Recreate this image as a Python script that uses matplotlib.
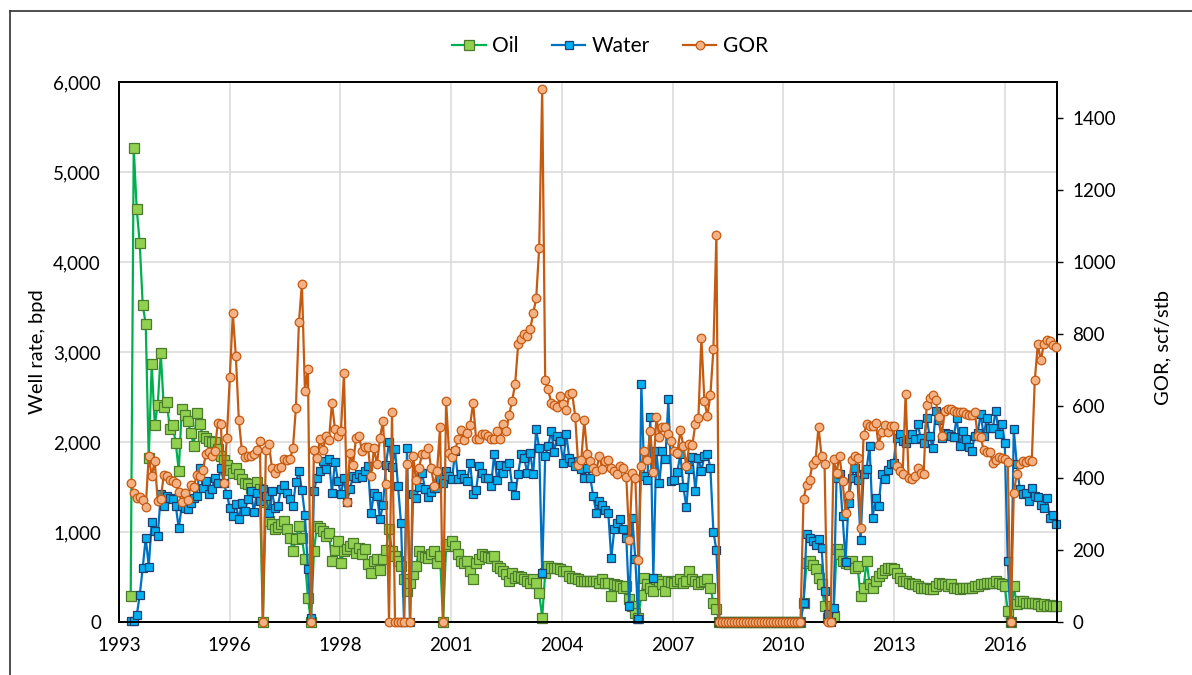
import numpy as np
import matplotlib.pyplot as plt
from matplotlib.lines import Line2D
from matplotlib.ticker import FuncFormatter

# monthly well test data, one value per month
oil = [
    290, 5270, 4590, 4210, 3520, 3310, 1820, 2870, 2190, 2410,
    2990, 2390, 2450, 2150, 2190, 1985, 1680, 2370, 2300, 2230,
    2100, 1960, 2320, 2200, 2070, 2050, 2010, 2000, 2000, 1920,
    1850, 1800, 1740, 1690, 1660, 1710, 1640, 1590, 1550, 1530,
    1490, 1450, 1560, 1480, 0, 1330, 1122, 1085, 1030, 1060,
    1085, 1122, 1030, 937, 789, 918, 1067, 937, 696, 270,
    0, 789, 1067, 1040, 1011, 956, 993, 678, 800, 900,
    659, 789, 807, 840, 881, 770, 826, 752, 807, 650,
    548, 678, 696, 574, 700, 800, 1030, 789, 733, 680,
    622, 474, 344, 437, 530, 622, 789, 733, 720, 715,
    752, 789, 659, 733, 0, 844, 870, 900, 844, 760,
    678, 659, 678, 570, 474, 659, 696, 752, 733, 720,
    715, 733, 622, 604, 567, 530, 456, 548, 493, 511,
    500, 480, 456, 437, 474, 437, 320, 48, 548, 622,
    604, 604, 604, 585, 567, 567, 511, 493, 493, 474,
    456, 456, 456, 456, 456, 456, 437, 474, 437, 437,
    289, 419, 410, 400, 381, 400, 252, 178, 100, 48,
    300, 493, 420, 381, 344, 474, 456, 419, 344, 456,
    450, 437, 456, 474, 437, 456, 567, 474, 456, 419,
    440, 456, 474, 381, 215, 141, 0, 0, 0, 0,
    0, 0, 0, 0, 0, 0, 0, 0, 0, 0,
    0, 0, 0, 0, 0, 0, 0, 0, 0, 0,
    0, 0, 0, 0, 215, 659, 678, 630, 585, 493,
    419, 178, 48, 48, 67, 807, 752, 678, 659, 641,
    678, 604, 620, 289, 381, 678, 420, 381, 456, 511,
    548, 580, 604, 604, 585, 548, 493, 456, 456, 437,
    419, 419, 400, 381, 381, 381, 370, 363, 400, 437,
    419, 419, 400, 419, 381, 381, 363, 381, 381, 381,
    381, 400, 400, 419, 419, 437, 437, 437, 456, 437,
    419, 400, 122, 0, 400, 196, 233, 233, 215, 215,
    215, 215, 196, 178, 196, 178, 185, 178, 178,
]

water = [
    10, 10, 74, 296, 604, 937, 615, 1111, 1011, 956,
    1419, 1289, 1400, 1380, 1363, 1289, 1041, 1289, 1270, 1252,
    1320, 1381, 1400, 1715, 1493, 1567, 1419, 1474, 1604, 1548,
    1715, 1548, 1419, 1270, 1178, 1307, 1141, 1326, 1233, 1363,
    1455, 1222, 1437, 1344, 1474, 1400, 1215, 1455, 1270, 1289,
    1474, 1519, 1437, 1363, 1289, 1556, 1678, 1463, 1189, 585,
    48, 1456, 1600, 1678, 1789, 1696, 1807, 1437, 1781, 1567,
    1419, 1604, 1333, 1480, 1622, 1604, 1641, 1611, 1680, 1733,
    1207, 1437, 1400, 1148, 1300, 1750, 2000, 1722, 1918, 1511,
    1100, 0, 1937, 0, 1426, 1382, 1500, 1659, 1474, 1389,
    1440, 1493, 1493, 1585, 1550, 1678, 1620, 1585, 1900, 1585,
    1641, 1600, 1567, 1770, 1419, 1463, 1733, 1659, 1596, 1604,
    1511, 1870, 1574, 1741, 1652, 1733, 1770, 1511, 1411, 1648,
    1863, 1826, 1659, 1881, 1641, 2141, 1930, 548, 1844, 1956,
    2122, 1889, 2067, 2011, 1770, 2093, 1826, 1781, 1733, 1789,
    1700, 1604, 1715, 1604, 1400, 1215, 1344, 1300, 1250, 1215,
    707, 1030, 1100, 1141, 1030, 937, 178, 1159, 700, 30,
    2648, 1622, 1578, 2278, 493, 1900, 1541, 1900, 1807, 2474,
    1567, 1574, 1670, 1863, 1500, 1278, 1696, 1833, 1456, 1826,
    1678, 1844, 1870, 1707, 1004, 796, 0, 0, 0, 0,
    0, 0, 0, 0, 0, 0, 0, 0, 0, 0,
    0, 0, 0, 0, 0, 0, 0, 0, 0, 0,
    0, 0, 0, 0, 215, 974, 937, 900, 856, 918,
    826, 344, 85, 0, 159, 1604, 1648, 1178, 670, 1326,
    1604, 1715, 1574, 911, 1648, 1700, 1956, 1159, 1374, 1289,
    1641, 1585, 1685, 1752, 1770, 2048, 2085, 2011, 1993, 2030,
    2085, 2030, 2204, 2048, 1993, 2263, 2067, 1930, 2345, 2241,
    2048, 2104, 2085, 2067, 2056, 2270, 1956, 2122, 2030, 1950,
    1900, 2067, 2104, 2315, 2067, 2270, 2159, 2152, 2345, 2093,
    2204, 1993, 678, 0, 2141, 1760, 1474, 1419, 1437, 1344,
    1493, 1400, 1389, 1300, 1270, 1382, 1152, 1189, 1085,
]

gor = [
    387, 359, 345, 347, 338, 320, 461, 405, 447, 336,
    343, 407, 405, 394, 392, 385, 360, 333, 359, 340,
    381, 376, 408, 405, 421, 466, 472, 461, 475, 554,
    549, 387, 512, 681, 857, 739, 561, 477, 458, 461,
    461, 466, 477, 503, 0, 477, 495, 429, 415, 429,
    431, 452, 450, 452, 482, 595, 832, 940, 643, 704,
    0, 477, 456, 507, 477, 517, 505, 609, 535, 517,
    531, 691, 334, 470, 436, 510, 517, 475, 486, 486,
    405, 482, 438, 512, 558, 382, 0, 584, 0, 0,
    0, 0, 438, 0, 461, 394, 429, 466, 466, 484,
    429, 378, 419, 542, 0, 614, 470, 458, 477, 507,
    532, 505, 526, 547, 609, 507, 507, 521, 521, 517,
    507, 507, 531, 507, 551, 531, 575, 615, 662, 771,
    785, 799, 795, 813, 857, 899, 1040, 1480, 671, 646,
    609, 603, 597, 628, 605, 588, 632, 635, 570, 436,
    449, 560, 468, 447, 429, 419, 461, 426, 447, 449,
    429, 420, 410, 433, 429, 403, 227, 415, 401, 171,
    433, 475, 449, 531, 417, 570, 514, 543, 543, 521,
    503, 475, 470, 532, 489, 433, 494, 492, 551, 566,
    790, 614, 572, 631, 757, 1075, 0, 0, 0, 0,
    0, 0, 0, 0, 0, 0, 0, 0, 0, 0,
    0, 0, 0, 0, 0, 0, 0, 0, 0, 0,
    0, 0, 0, 0, 341, 381, 394, 440, 449, 542,
    461, 440, 0, 0, 452, 415, 461, 392, 304, 353,
    449, 461, 455, 262, 520, 549, 545, 545, 554, 492,
    529, 547, 529, 545, 545, 433, 420, 410, 634, 401,
    396, 405, 427, 415, 412, 603, 621, 631, 616, 570,
    517, 586, 591, 591, 586, 584, 584, 582, 577, 576,
    575, 584, 517, 514, 477, 473, 473, 443, 449, 458,
    456, 452, 445, 0, 357, 412, 440, 447, 445, 449,
    447, 671, 771, 727, 771, 782, 780, 770, 764,
]

year_labels = ['1993', '1996', '1998', '2001', '2004', '2007', '2010', '2013', '2016']

months = np.arange(len(oil))

# date axis: one major unit is 1000 days, i.e. ~36.9 monthly samples
x_start = -3.9
x_step = 36.86
x_end = 308.4
x_ticks = x_start + x_step * np.arange(len(year_labels))

plt.rcParams['font.family'] = ['Lato', 'DejaVu Sans']

fig = plt.figure(figsize=(11.92, 6.75), dpi=100)
ax = fig.add_axes([119 / 1192, 1 - 622 / 675, (1057 - 119) / 1192, (622 - 82) / 675])
ax2 = ax.twinx()

l_oil, = ax.plot(months, oil, color='#00B050', lw=1.6, marker='s', ms=7.2,
                 mfc='#92D050', mec='#4A7A2C', mew=0.9, clip_on=False, zorder=3)
l_wat, = ax.plot(months, water, color='#0070C0', lw=1.6, marker='s', ms=6.0,
                 mfc='#00B0F0', mec='#1F3F6E', mew=0.9, clip_on=False, zorder=4)
l_gor, = ax2.plot(months, gor, color='#C55A11', lw=1.6, marker='o', ms=6.2,
                  mfc='#F4B183', mec='#C55A11', mew=0.9, clip_on=False, zorder=3)

ax.set_xlim(x_start, x_end)
ax.set_ylim(0, 6000)
ax2.set_ylim(0, 1500)

ax.set_xticks(x_ticks)
ax.set_xticklabels(year_labels)
ax.set_yticks(np.arange(0, 6001, 1000))
ax.yaxis.set_major_formatter(FuncFormatter(lambda v, p: f'{v:,.0f}'))
ax2.set_yticks(np.arange(0, 1401, 200))

ax.grid(True, color='#D9D9D9', lw=1.1)
ax.set_axisbelow(True)

for a in (ax, ax2):
    for s in a.spines.values():
        s.set_color('black')
        s.set_linewidth(1.3)

ax.tick_params(axis='y', length=0, pad=13, labelsize=13.5)
ax.tick_params(axis='x', length=0, pad=11, labelsize=13.5)
ax2.tick_params(axis='y', length=4, width=1, direction='out', pad=7, labelsize=13.5)

fig.text(38 / 1192, 1 - 352 / 675, 'Well rate, bpd', rotation=90,
         ha='center', va='center', fontsize=14.5)
fig.text(1163 / 1192, 1 - 347 / 675, 'GOR, scf/stb', rotation=90,
         ha='center', va='center', fontsize=14.5)

fig.legend([l_oil, l_wat, l_gor], ['Oil', 'Water', 'GOR'], loc='center',
           bbox_to_anchor=(610 / 1192, 1 - 46 / 675), ncol=3, frameon=False,
           fontsize=15, handlelength=1.6, handletextpad=0.3, columnspacing=1.6)

# outer chart frame (top and left edges)
fig.add_artist(Line2D([10 / 1192, 1], [1 - 11 / 675, 1 - 11 / 675],
                      transform=fig.transFigure, color='#404040', lw=1.3))
fig.add_artist(Line2D([10 / 1192, 10 / 1192], [0, 1 - 11 / 675],
                      transform=fig.transFigure, color='#404040', lw=1.3))

fig.savefig('out.png', dpi=100)
